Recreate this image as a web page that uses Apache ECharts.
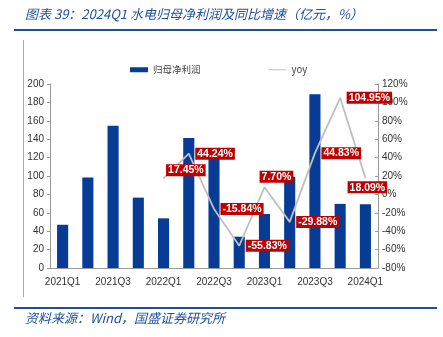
<!DOCTYPE html>
<html>
<head>
<meta charset="utf-8">
<script src="https://cdn.jsdelivr.net/npm/echarts@6/dist/echarts.min.js"></script>
<style>
  html, body { margin: 0; padding: 0; background: #fff; }
  #chart { width: 443px; height: 337px; }
</style>
</head>
<body>
<div id="chart"></div>
<script>
// 季度
const quarters = ['2021Q1', '2021Q2', '2021Q3', '2021Q4', '2022Q1', '2022Q2', '2022Q3',
    '2022Q4', '2023Q1', '2023Q2', '2023Q3', '2023Q4', '2024Q1'];
// 归母净利润（亿元）
const profit = [47, 98.5, 154.7, 76.5, 54, 141.3, 130, 34, 58.7, 99.3, 188.8, 69.7, 69.3];
// 同比增速（%）
const yoy = [null, null, null, null, 17.45, 44.24, -15.84, -55.83, 7.70, -29.88, 44.83, 104.95, 18.09];
const leftTicks = {min: 0, max: 200, interval: 20};
const rightTicks = {min: -80, max: 120, interval: 20};

const blue = '#063C95';
const red = '#C00000';
const titleBlue = '#1F4E9C';

const chart = echarts.init(document.getElementById('chart'));

// label tweaks per point, most sit to the right
function yoyLabel(i) {
    const base = {
        show: true,
        position: 'right',
        distance: 6,
        color: '#fff',
        fontWeight: 'bold',
        fontSize: 10.5,
        fontFamily: 'Liberation Sans',
        backgroundColor: red,
        padding: [1, 2, 0, 2],
        formatter: p => p.value.toFixed(2) + '%'
    };
    if (i === 4) { base.distance = 2; base.offset = [0, -8]; }
    if (i === 8) { base.position = 'top'; base.distance = 4; base.offset = [12, 0]; }
    if (i === 12) { base.position = 'bottom'; base.distance = 3; base.offset = [2, 0]; }
    return base;
}

const option = {
    animation: false,
    textStyle: {fontFamily: 'Liberation Sans'},
    grid: {left: 50, right: 65, top: 84, bottom: 69},
    legend: {
        top: 60,
        left: 125,
        itemWidth: 18,
        itemHeight: 5,
        itemGap: 68,
        textStyle: {fontSize: 9.5, color: '#444', fontFamily: 'Noto Sans CJK SC'},
        data: [
            {name: '归母净利润', icon: 'path://M0,0L18,0L18,5L0,5Z'},
            {name: 'yoy', icon: 'path://M0,2L18,2L18,3L0,3Z'}
        ]
    },
    xAxis: {
        type: 'category',
        data: quarters,
        axisLine: {lineStyle: {color: '#999'}},
        axisTick: {show: false},
        axisLabel: {interval: 1, color: '#333', fontSize: 10, margin: 9}
    },
    yAxis: [
        {
            type: 'value',
            min: leftTicks.min, max: leftTicks.max, interval: leftTicks.interval,
            axisLine: {show: true, lineStyle: {color: '#999'}},
            axisTick: {show: true, length: 3},
            splitLine: {show: false},
            axisLabel: {color: '#333', fontSize: 10, margin: 6}
        },
        {
            type: 'value',
            min: rightTicks.min, max: rightTicks.max, interval: rightTicks.interval,
            axisLine: {show: true, lineStyle: {color: '#999'}},
            axisTick: {show: true, inside: true, length: 3},
            splitLine: {show: false},
            axisLabel: {color: '#333', fontSize: 10, margin: 4, formatter: '{value}%'}
        }
    ],
    series: [
        {
            name: '归母净利润',
            type: 'bar',
            data: profit,
            barWidth: '44%',
            itemStyle: {color: blue}
        },
        {
            name: 'yoy',
            type: 'line',
            yAxisIndex: 1,
            data: yoy.map((v, i) => v === null ? null : {value: v, label: yoyLabel(i)}),
            symbol: 'circle',
            symbolSize: 1,
            itemStyle: {color: '#BFBFBF'},
            lineStyle: {color: '#BFBFBF', width: 1.8},
            z: 3
        }
    ],
    graphic: [
        {type: 'line', shape: {x1: 14, y1: 30, x2: 437, y2: 30}, style: {stroke: titleBlue, lineWidth: 2}},
        {type: 'line', shape: {x1: 14, y1: 308, x2: 437, y2: 308}, style: {stroke: titleBlue, lineWidth: 2}},
        {type: 'line', shape: {x1: 23.5, y1: 40, x2: 23.5, y2: 297}, style: {stroke: '#aaa', lineWidth: 1}},
        {
            type: 'text', left: 25, top: 8,
            style: {
                text: '图表 39：2024Q1 水电归母净利润及同比增速（亿元，%）',
                fill: titleBlue, fontSize: 13, fontStyle: 'italic',
                fontFamily: 'Noto Sans CJK SC'
            }
        },
        {
            type: 'text', left: 25, top: 312,
            style: {
                text: '资料来源：Wind，国盛证券研究所',
                fill: titleBlue, fontSize: 13, fontStyle: 'italic',
                fontFamily: 'Noto Sans CJK SC'
            }
        }
    ]
};

chart.setOption(option);
</script>
</body>
</html>
